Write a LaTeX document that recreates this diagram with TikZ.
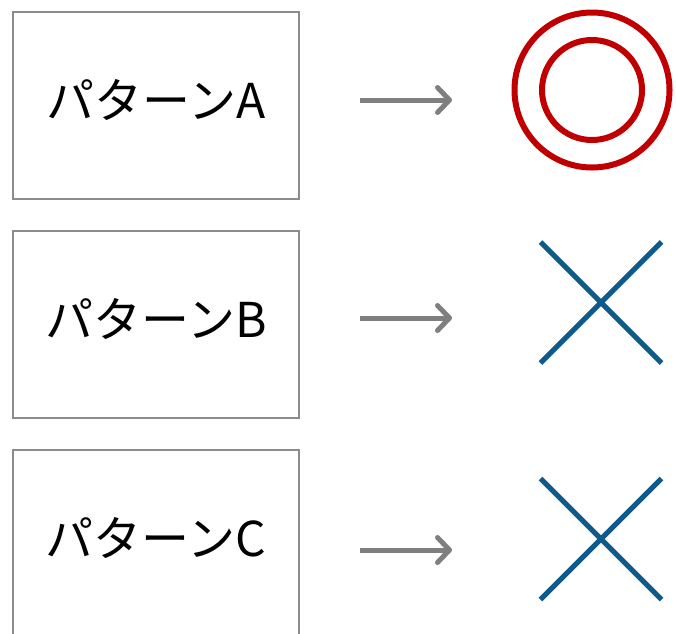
\documentclass[tikz,border=0pt]{standalone}
\usepackage{fontspec}
\newfontfamily\jpfont{Noto Sans CJK JP}
\usetikzlibrary{arrows.meta,shapes.misc,positioning}
\definecolor{wakuGray}{HTML}{8C8C8C}
\definecolor{yajiGray}{HTML}{7F7F7F}
\definecolor{maruRed}{HTML}{C00000}
\definecolor{batsuBlue}{HTML}{0E5A8A}
\tikzset{
  patbox/.style={draw=wakuGray, line width=2pt, minimum width=286pt, minimum height=187pt,
    inner sep=0pt, font=\jpfont\fontsize{48}{52}\selectfont, text height=36pt, text depth=10.6pt},
  yaji/.style={draw=yajiGray, line width=5pt, -{Straight Barb[length=12pt,width=25pt,round]}},
  maru/.style={circle, draw=maruRed, line width=6pt, inner sep=0pt},
  batsu/.style={cross out, draw=batsuBlue, line width=5pt, inner sep=0pt, minimum size=116pt}
}

\begin{document}
\begin{tikzpicture}[x=1pt,y=-1pt]
    \useasboundingbox (0,0) rectangle (676,633);

    % パターンの枠
    \node[patbox] (boxA) at (156,105.5) {パターンA};
    \node[patbox, below=30pt of boxA] (boxB) {パターンB};
    \node[patbox, below=30pt of boxB] (boxC) {パターンC};

    % 結果の記号
    \node[maru, minimum size=155pt] (resA) at (592,90) {};
    \node[maru, minimum size=100pt] at (resA) {};
    \node[batsu] (resB) at (601,302.5) {};
    \node[batsu] (resC) at (601,539) {};

    % 矢印
    \draw[yaji] ([xshift=60pt,yshift=5.5pt]boxA.east) -- ++(92,0);
    \draw[yaji] ([xshift=60pt,yshift=6.5pt]boxB.east) -- ++(92,0);
    \draw[yaji] ([xshift=60pt,yshift=-6.5pt]boxC.east) -- ++(92,0);
\end{tikzpicture}
\end{document}
